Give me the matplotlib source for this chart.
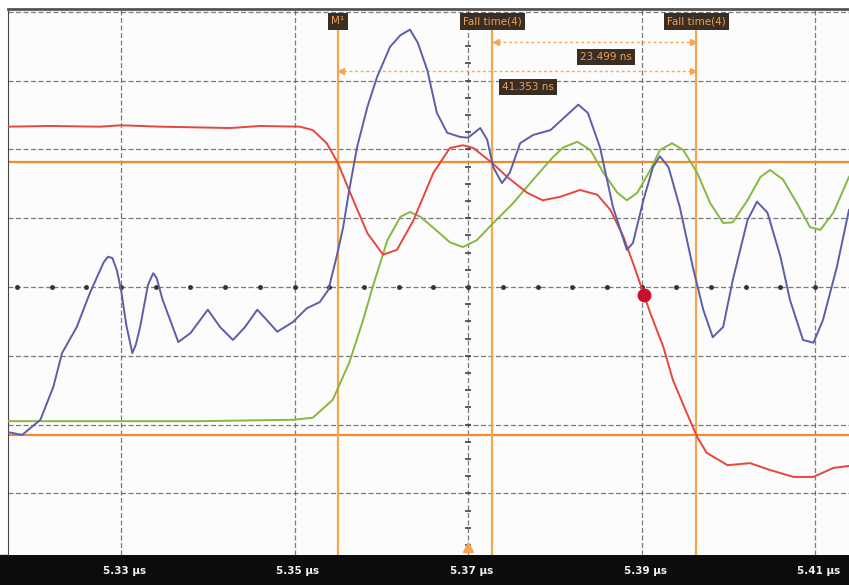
import numpy as np
import matplotlib
matplotlib.use("Agg")
import matplotlib.pyplot as plt
from matplotlib.patches import Rectangle
from matplotlib.transforms import blended_transform_factory

# time in ns, amplitude in divisions
blue_t = [5317.0, 5318.6, 5320.7, 5322.2, 5323.2, 5324.9, 5326.4, 5328.0, 5328.5, 5329.0,
          5329.5, 5330.0, 5330.6, 5331.3, 5331.7, 5332.2, 5333.1, 5333.7, 5334.1, 5334.8,
          5336.6, 5338.0, 5340.0, 5341.4, 5342.9, 5344.3, 5345.7,
          5346.8, 5348.0, 5349.8, 5351.4, 5352.9, 5353.9, 5354.9, 5355.6, 5356.3, 5357.2,
          5358.4, 5359.5, 5361.0, 5362.2, 5363.3, 5364.2, 5365.3, 5366.4, 5367.6, 5369.1, 5370.0,
          5371.4, 5372.2, 5372.9, 5373.9, 5374.8, 5376.0, 5377.5, 5379.5, 5381.4, 5382.7,
          5383.8, 5385.2, 5386.7, 5388.3, 5389.0, 5390.2, 5391.3, 5392.1, 5393.1, 5394.4,
          5395.9, 5397.1, 5398.2, 5399.4, 5400.5, 5402.2, 5403.3, 5404.5, 5406.0, 5407.1,
          5408.6, 5409.8, 5410.9, 5412.5, 5413.9]
blue_v = [-2.11, -2.15, -1.93, -1.45, -0.96, -0.58, -0.09, 0.36, 0.44, 0.42,
          0.25, -0.04, -0.55, -0.96, -0.84, -0.58, 0.03, 0.20, 0.13, -0.19,
          -0.80, -0.67, -0.33, -0.58, -0.77, -0.58, -0.33,
          -0.48, -0.65, -0.51, -0.31, -0.22, -0.04, 0.47, 0.87, 1.41, 2.03,
          2.62, 3.05, 3.49, 3.66, 3.74, 3.55, 3.15, 2.53, 2.24, 2.18, 2.17,
          2.31, 2.14, 1.74, 1.51, 1.66, 2.09, 2.21, 2.28, 2.50, 2.65,
          2.53, 2.03, 1.16, 0.54, 0.64, 1.26, 1.74, 1.90, 1.74, 1.16,
          0.29, -0.33, -0.73, -0.58, 0.10, 0.97, 1.24, 1.08, 0.44, -0.19,
          -0.77, -0.81, -0.48, 0.29, 1.12]

red_t = [5317.0, 5321.8, 5327.6, 5330.0, 5334.5, 5342.6, 5346.0, 5350.6, 5352.1, 5353.7,
         5355.0, 5356.4, 5358.4, 5360.2, 5361.8, 5363.7, 5366.0, 5367.9, 5369.4, 5370.6,
         5372.8, 5374.5, 5376.8, 5378.6, 5380.6, 5382.9, 5384.9, 5386.4, 5387.9, 5389.0,
         5389.8, 5391.0, 5392.5, 5393.6, 5395.2, 5396.4, 5397.5, 5399.9, 5402.5, 5404.8,
         5407.5, 5409.8, 5412.1, 5413.9]
red_v = [2.33, 2.34, 2.33, 2.35, 2.33, 2.31, 2.34, 2.33, 2.28, 2.09,
         1.80, 1.37, 0.78, 0.47, 0.54, 0.97, 1.66, 2.02, 2.06, 2.02,
         1.80, 1.60, 1.37, 1.26, 1.31, 1.41, 1.34, 1.12, 0.73, 0.35,
         0.06, -0.38, -0.87, -1.35, -1.83, -2.18, -2.41, -2.59, -2.56, -2.66,
         -2.76, -2.76, -2.63, -2.60]

green_t = [5317.0, 5327.6, 5339.1, 5349.8, 5352.1, 5354.4, 5356.3, 5357.9, 5359.0, 5360.7,
           5362.2, 5363.3, 5364.5, 5366.0, 5367.9, 5369.4, 5371.0, 5372.9, 5375.2, 5377.5,
           5379.8, 5381.0, 5382.6, 5384.1, 5385.6, 5387.2, 5388.3, 5389.5, 5391.0, 5392.1,
           5393.5, 5394.8, 5396.4, 5397.9, 5399.4, 5400.5, 5402.2, 5403.7, 5404.8, 5406.3,
           5407.9, 5409.4, 5410.6, 5412.1, 5413.9]
green_v = [-1.95, -1.95, -1.95, -1.93, -1.90, -1.64, -1.10, -0.48, 0.00, 0.68,
           1.02, 1.09, 1.02, 0.86, 0.65, 0.58, 0.68, 0.93, 1.22, 1.56,
           1.89, 2.03, 2.11, 1.99, 1.66, 1.37, 1.26, 1.37, 1.70, 1.99,
           2.09, 1.99, 1.66, 1.22, 0.93, 0.94, 1.26, 1.60, 1.70, 1.56,
           1.22, 0.87, 0.83, 1.08, 1.60]

# measurement cursors
levels = [1.81, -2.15]
cursor_t = [5355.0, 5372.8, 5396.3]
cursor_names = ["M\u00b9", "Fall time(4)", "Fall time(4)"]
meas_labels = ["23.499 ns", "41.353 ns"]
dot_t = 5390.3
trigger_t = 5370.0
tick_t = [5330, 5350, 5370, 5390, 5410]

W, H = 849, 585
fig = plt.figure(figsize=(W / 100, H / 100), dpi=100)
fig.patch.set_facecolor("white")
ax = fig.add_axes([8 / W, 30 / H, (W - 8) / W, (555 - 9) / H])
ax.set_facecolor("#fcfcfc")
ax.set_xlim(5316.97, 5413.9)
ax.set_ylim(-3.895, 4.04)
ax.set_xticks([])
ax.set_yticks([])
for s in ["right", "bottom"]:
    ax.spines[s].set_visible(False)
ax.spines["left"].set_color("#444444")
ax.spines["top"].set_color("#555555")
ax.spines["top"].set_linewidth(2)

grid_kw = dict(color="#5a5a5a", lw=0.9, ls=(0, (4, 2)), alpha=0.8, zorder=1)
for t in tick_t:
    ax.axvline(t, **grid_kw)
for v in range(-3, 5):
    ax.axhline(v, **grid_kw)

# minor ticks on centre axes
mt = np.arange(5318, 5414, 4)
ax.plot(mt, np.zeros_like(mt), ls="none", marker="o", ms=2.5, color="#333333", zorder=1)
mv = np.arange(-3.75, 4.0, 0.25)
ax.plot(np.full_like(mv, 5370.0), mv, ls="none", marker="_", ms=4, color="#444444", mew=1.2, zorder=1)

# cursors
for lv in levels:
    ax.axhline(lv, color="#f28a2e", lw=1.6, zorder=2)
for t in cursor_t:
    ax.vlines(t, -3.895, 3.75, color="#f5a650", lw=1.6, zorder=2)

# traces
ax.plot(red_t, red_v, color="#e5473e", lw=1.4, zorder=4)
ax.plot(green_t, green_v, color="#86b83e", lw=1.4, zorder=3)
ax.plot(blue_t, blue_v, color="#5b5ea8", lw=1.4, zorder=5)

ax.plot(dot_t, np.interp(dot_t, red_t, red_v), "o", ms=9, color="#c8102e", zorder=6)

# labels on cursors
box = dict(boxstyle="square,pad=0.3", fc="#3a2e24", ec="none")
for t, name in zip(cursor_t, cursor_names):
    ax.text(t, 3.86, name, ha="center", va="center", fontsize=7.5, color="#f0a050",
            bbox=box, zorder=7)

arr_kw = dict(color="#f5a650", lw=1, ls=(0, (2, 2)), zorder=3)
ax.plot([cursor_t[1], cursor_t[2]], [3.56, 3.56], **arr_kw)
ax.plot([cursor_t[0], cursor_t[2]], [3.14, 3.14], **arr_kw)
ax.plot([cursor_t[1] + 0.4], [3.56], marker="<", ms=5, color="#f5a650", zorder=3)
ax.plot([cursor_t[2] - 0.4], [3.56], marker=">", ms=5, color="#f5a650", zorder=3)
ax.plot([cursor_t[0] + 0.4], [3.14], marker="<", ms=5, color="#f5a650", zorder=3)
ax.plot([cursor_t[2] - 0.4], [3.14], marker=">", ms=5, color="#f5a650", zorder=3)
ax.text(5385.9, 3.34, meas_labels[0], ha="center", va="center", fontsize=7.5,
        color="#f0a050", bbox=box, zorder=7)
ax.text(5376.9, 2.91, meas_labels[1], ha="center", va="center", fontsize=7.5,
        color="#f0a050", bbox=box, zorder=7)

ax.plot(trigger_t, -3.78, marker="^", ms=7, color="#f5a650", zorder=7)

# bottom bar with time labels
fig.patches.append(Rectangle((0, 0), 1, 30 / H, transform=fig.transFigure,
                             color="#0c0c0c", zorder=-1))
tr = blended_transform_factory(ax.transData, fig.transFigure)
for t in tick_t:
    fig.text(t + 0.4, 14 / H, f"{t / 1000:.2f} \u00b5s", transform=tr, ha="center",
             va="center", fontsize=7.5, fontweight="bold", color="#f2f2f2")

fig.savefig("out.png", dpi=100)
